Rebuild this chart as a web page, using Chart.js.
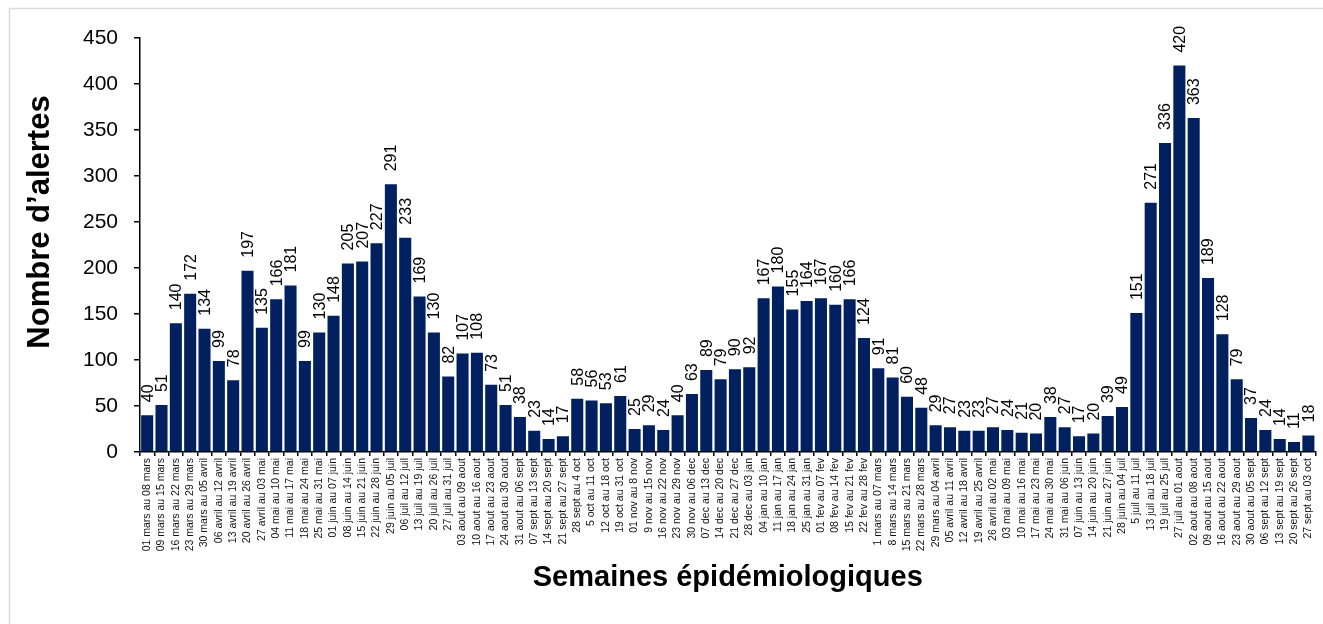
<!DOCTYPE html>
<html>
<head>
<meta charset="utf-8">
<script src="https://cdn.jsdelivr.net/npm/chart.js@4/dist/chart.umd.min.js"></script>
<style>
    html, body { margin: 0; padding: 0; background: #fff; overflow: hidden; }
    #wrap { width: 1323px; height: 624px; }
</style>
</head>
<body>
<div id="wrap"><canvas id="alertesChart" width="1323" height="624"></canvas></div>
<script>
// semaines epidemiologiques
const semaines = [
    "01 mars au 08 mars", "09 mars au 15 mars", "16 mars au 22 mars", "23 mars au 29 mars",
    "30 mars au 05 avril", "06 avril au 12 avril", "13 avril au 19 avril", "20 avril au 26 avril",
    "27 avril au 03 mai", "04 mai au 10 mai", "11 mai au 17 mai", "18 mai au 24 mai",
    "25 mai au 31 mai", "01 juin au 07 juin", "08 juin au 14 juin", "15 juin au 21 juin",
    "22 juin au 28 juin", "29 juin au 05 juil", "06 juil au 12 juil", "13 juil au 19 juil",
    "20 juil au 26 juil", "27 juil au 31 juil", "03 aout au 09 aout", "10 aout au 16 aout",
    "17 aout au 23 aout", "24 aout au 30 aout", "31 aout au 06 sept", "07 sept au 13 sept",
    "14 sept au 20 sept", "21 sept au 27 sept", "28 sept au 4 oct", "5 oct au 11 oct",
    "12 oct au 18 oct", "19 oct au 31 oct", "01 nov au 8 nov", "9 nov au 15 nov",
    "16 nov au 22 nov", "23 nov au 29 nov", "30 nov au 06 dec", "07 dec au 13 dec",
    "14 dec au 20 dec", "21 dec au 27 dec", "28 dec au 03 jan", "04 jan au 10 jan",
    "11 jan au 17 jan", "18 jan au 24 jan", "25 jan au 31 jan", "01 fev au 07 fev",
    "08 fev au 14 fev", "15 fev au 21 fev", "22 fev au 28 fev", "1 mars au 07 mars",
    "8 mars au 14 mars", "15 mars au 21 mars", "22 mars au 28 mars", "29 mars au 04 avril",
    "05 avril au 11 avril", "12 avril au 18 avril", "19 avril au 25 avril", "26 avril au 02 mai",
    "03 mai au 09 mai", "10 mai au 16 mai", "17 mai au 23 mai", "24 mai au 30 mai",
    "31 mai au 06 juin", "07 juin au 13 juin", "14 juin au 20 juin", "21 juin au 27 juin",
    "28 juin au 04 juil", "5 juil au 11 juil", "13 juil au 18 juil", "19 juil au 25 juil",
    "27 juil au 01 aout", "02 aout au 08 aout", "09 aout au 15 aout", "16 aout au 22 aout",
    "23 aout au 29 aout", "30 aout au 05 sept", "06 sept au 12 sept", "13 sept au 19 sept",
    "20 sept au 26 sept", "27 sept au 03 oct"
];

// nombre d'alertes par semaine
const alertes = [
    40, 51, 140, 172, 134, 99, 78, 197, 135, 166,
    181, 99, 130, 148, 205, 207, 227, 291, 233, 169,
    130, 82, 107, 108, 73, 51, 38, 23, 14, 17,
    58, 56, 53, 61, 25, 29, 24, 40, 63, 89,
    79, 90, 92, 167, 180, 155, 164, 167, 160, 166,
    124, 91, 81, 60, 48, 29, 27, 23, 23, 27,
    24, 21, 20, 38, 27, 17, 20, 39, 49, 151,
    271, 336, 420, 363, 189, 128, 79, 37, 24, 14,
    11, 18
];

const yMax = 450;
const yStep = 50;

const titreX = "Semaines épidémiologiques";
const titreY = "Nombre d’alertes";

const FONT = "'Liberation Sans', Arial, sans-serif";

// cadre gris autour du graphique
const cadre = {
    id: 'cadre',
    beforeDraw(chart) {
        const ctx = chart.ctx;
        ctx.save();
        ctx.strokeStyle = '#d9d9d9';
        ctx.lineWidth = 1.5;
        ctx.strokeRect(9.5, 8.5, 1400, 700);
        ctx.restore();
    }
};

// valeurs au-dessus des barres (texte vertical)
const valeurs = {
    id: 'valeurs',
    afterDatasetsDraw(chart) {
        const ctx = chart.ctx;
        const meta = chart.getDatasetMeta(0);
        ctx.save();
        ctx.font = '16px ' + FONT;
        ctx.fillStyle = '#000';
        ctx.textAlign = 'left';
        ctx.textBaseline = 'middle';
        meta.data.forEach(function (bar, i) {
            ctx.save();
            ctx.translate(bar.x + 1, bar.y - 13);
            ctx.rotate(-Math.PI / 2);
            ctx.fillText(String(alertes[i]), 0, 0);
            ctx.restore();
        });
        ctx.restore();
    }
};

// titres des axes
const titres = {
    id: 'titres',
    afterDraw(chart) {
        const ctx = chart.ctx;
        const area = chart.chartArea;
        ctx.save();
        ctx.fillStyle = '#000';
        ctx.textAlign = 'center';
        ctx.textBaseline = 'middle';
        ctx.font = 'bold 29px ' + FONT;
        ctx.fillText(titreX, (area.left + area.right) / 2, 578);

        ctx.font = 'bold 31px ' + FONT;
        ctx.translate(40, 222);
        ctx.rotate(-Math.PI / 2);
        ctx.fillText(titreY, 0, 0);
        ctx.restore();
    }
};

const ctx = document.getElementById("alertesChart").getContext("2d");

new Chart(ctx, {
    type: 'bar',
    data: {
        labels: semaines,
        datasets: [{
            data: alertes,
            backgroundColor: '#00205f',
            borderWidth: 0,
            barPercentage: 0.84,
            categoryPercentage: 1.0
        }]
    },
    options: {
        responsive: false,
        animation: false,
        devicePixelRatio: 1,
        layout: {
            padding: { left: 0, top: 38, right: 3, bottom: 0 }
        },
        plugins: {
            legend: { display: false },
            tooltip: { enabled: false },
            title: { display: false }
        },
        scales: {
            x: {
                afterFit: function (scale) { scale.height = 624 - 452; },
                grid: {
                    drawOnChartArea: false,
                    drawTicks: true,
                    tickLength: 4,
                    color: '#000',
                    lineWidth: 1.5
                },
                border: { display: true, color: '#000', width: 1.5 },
                ticks: {
                    autoSkip: false,
                    maxRotation: 90,
                    minRotation: 90,
                    padding: 2,
                    color: '#111',
                    font: { family: FONT, size: 10.5 }
                }
            },
            y: {
                min: 0,
                max: yMax,
                afterFit: function (scale) { scale.width = 140; },
                grid: {
                    drawOnChartArea: false,
                    drawTicks: true,
                    tickLength: 6,
                    color: '#000',
                    lineWidth: 1.5
                },
                border: { display: true, color: '#000', width: 1.5 },
                ticks: {
                    stepSize: yStep,
                    padding: 16,
                    color: '#000',
                    font: { family: FONT, size: 21 }
                }
            }
        }
    },
    plugins: [cadre, valeurs, titres]
});
</script>
</body>
</html>
